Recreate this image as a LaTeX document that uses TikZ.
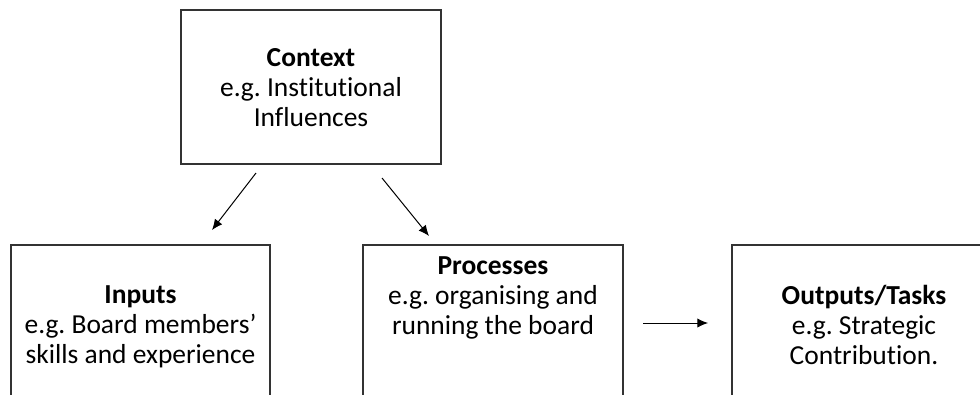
\documentclass[tikz,border=0pt]{standalone}
\usepackage{fontspec}
\setmainfont{Carlito}[Ligatures=NoCommon]
\usetikzlibrary{arrows.meta}
\frenchspacing
\begin{document}
\begin{tikzpicture}[x=0.75pt,y=-0.75pt,
  boxshape/.style={draw=black!80, line width=1.1pt, rectangle, inner sep=0pt},
  boxtext/.style={align=center, inner sep=0pt, font=\frenchspacing\fontsize{20.6}{22.5}\selectfont},
  conn/.style={line width=0.75pt, -{Latex[length=8pt,width=7pt]}}]
\useasboundingbox (0,0) rectangle (980,394);
\clip (0,0) rectangle (980,394);
\node[boxshape, minimum width=195pt, minimum height=115.5pt] (ctx) at (311,87) {};
\node[boxtext] (ctxt) at (311,88) {\textbf{Context}\\e.g. Institutional\\Influences};
\node[boxshape, minimum width=194.25pt, minimum height=131.25pt] (inbox) at (140.5,332.5) {};
\node[boxtext] (intxt) at (140.5,327) {\textbf{Inputs}\\e.g. Board members’\\skills and experience};
\node[boxshape, minimum width=195pt, minimum height=131.25pt] (prbox) at (493,332.5) {};
\node[boxtext] (prtxt) at (493,298) {\textbf{Processes}\\e.g. organising and\\running the board};
\node[boxshape, minimum width=201pt, minimum height=131.25pt] (outbox) at (866,332.5) {};
\node[boxtext] (outtxt) at (864,325) {\textbf{Outputs/Tasks}\\e.g. Strategic\\Contribution.};
\coordinate (a1s) at (256,173);
\coordinate (a1e) at (212,230);
\coordinate (a2s) at (382,178);
\coordinate (a2e) at (429,236);
\coordinate (a3s) at (643,323);
\coordinate (a3e) at (708,323);
\draw[conn] (a1s) -- (a1e);
\draw[conn] (a2s) -- (a2e);
\draw[conn] (a3s) -- (a3e);
\end{tikzpicture}
\end{document}
